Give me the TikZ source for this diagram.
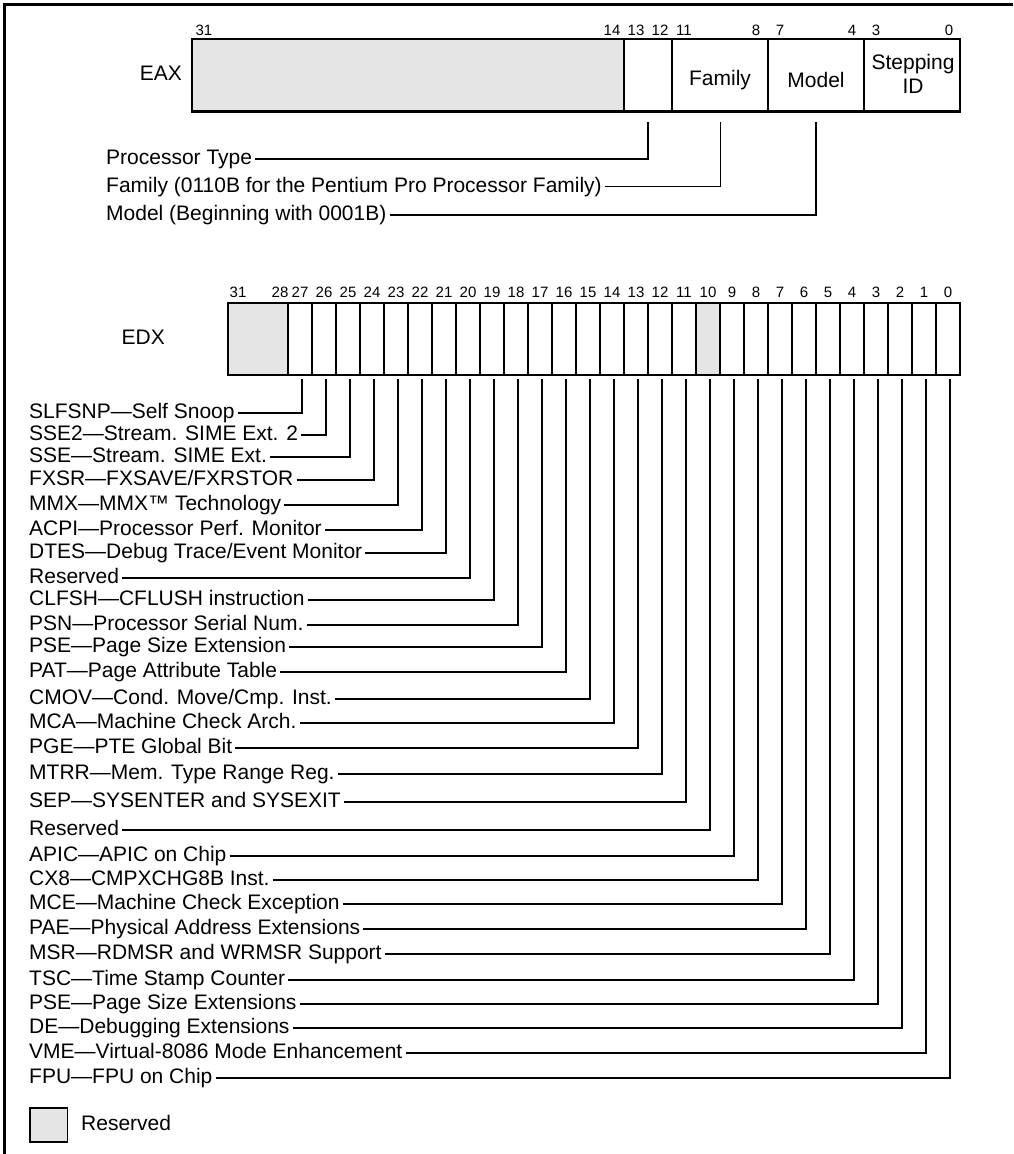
\documentclass[tikz,border=0pt]{standalone}
\usepackage{fontspec}
\setmainfont{Liberation Sans}
\definecolor{resgray}{gray}{0.9}
\begin{document}
\begin{tikzpicture}[x=1pt,y=-1pt,
  lab/.style={font=\fontsize{21}{25}\selectfont, inner sep=3pt, text height=15pt, text depth=4pt},
  celltxt/.style={font=\fontsize{21}{24}\selectfont, inner sep=0pt, align=center},
  bitnum/.style={font=\fontsize{15}{18}\selectfont, inner sep=0pt},
  regbox/.style={line width=2.2pt},
  frameline/.style={line width=3pt},
  conn/.style={line width=1.1pt}]
\useasboundingbox (0,0) rectangle (1013,1154);
% outer frame
\draw[frameline] (4,1154) -- (4,4) -- (1013,4);

% ---------------- EAX ----------------
\fill[resgray] (192,39) rectangle (624,111.5);
\draw[regbox] (192,39) rectangle (960,111.5);
\foreach \x in {624,672,768,864} \draw[regbox] (\x,39) -- (\x,111.5);
\foreach \b/\x in {31/204,14/612,13/636,12/660,11/684,8/756,7/780,4/852,3/876,0/949}
  \node[bitnum] (ea\b) at (\x,30) {\b};
\node[lab, anchor=east] (eax) at (185,75) {EAX};
\node[celltxt] (fam) at (720,80) {Family};
\node[celltxt] (mod) at (816,80) {Model};
\node[celltxt] (stepid) at (913,74) {Stepping\\ID};

\coordinate (ptb) at (648,122);
\coordinate (famb) at (720.5,122);
\coordinate (modb) at (816,122);
\node[lab, anchor=west] (pt) at (103,159) {Processor Type};
\node[lab, anchor=west] (famtxt) at (103,186.5) {Family (0110B for the Pentium Pro Processor Family)};
\node[lab, anchor=west] (modtxt) at (103,215) {Model (Beginning with 0001B)};
\draw[conn] (pt.east) -| (ptb);
\draw[conn] (famtxt.east) -| (famb);
\draw[conn] (modtxt.east) -| (modb);

% ---------------- EDX ----------------
\fill[resgray] (228,303) rectangle (288,375);
\fill[resgray] (696,303) rectangle (720,375);
\draw[regbox] (228,303) rectangle (960,375);
\foreach \i in {0,...,27} \draw[regbox] ({288+24*\i},303) -- ({288+24*\i},375);
\node[bitnum] (ed31) at (238,292) {31};
\node[bitnum] (ed28) at (280,292) {28};
\foreach \b in {0,...,27}
  \node[bitnum] (ed\b) at ({300+24*(27-\b)},292) {\b};
\node[lab, anchor=east] (edx) at (168,339) {EDX};

\foreach \b/\y/\t in {
  27/413/{SLFSNP—Self Snoop},
  26/435/{SSE2—Stream. SIME Ext. 2},
  25/457/{SSE—Stream. SIME Ext.},
  24/480/{FXSR—FXSAVE/FXRSTOR},
  23/505/{MMX—MMX™ Technology},
  22/530/{ACPI—Processor Perf. Monitor},
  21/553/{DTES—Debug Trace/Event Monitor},
  20/578/{Reserved},
  19/600/{CLFSH—CFLUSH instruction},
  18/625/{PSN—Processor Serial Num.},
  17/647/{PSE—Page Size Extension},
  16/672/{PAT—Page Attribute Table},
  15/699/{CMOV—Cond. Move/Cmp. Inst.},
  14/723/{MCA—Machine Check Arch.},
  13/748/{PGE—PTE Global Bit},
  12/774/{MTRR—Mem. Type Range Reg.},
  11/802/{SEP—SYSENTER and SYSEXIT},
  10/830/{Reserved},
  9/856/{APIC—APIC on Chip},
  8/880/{CX8—CMPXCHG8B Inst.},
  7/904/{MCE—Machine Check Exception},
  6/929/{PAE—Physical Address Extensions},
  5/954/{MSR—RDMSR and WRMSR Support},
  4/980/{TSC—Time Stamp Counter},
  3/1004/{PSE—Page Size Extensions},
  2/1028/{DE—Debugging Extensions},
  1/1053/{VME—Virtual-8086 Mode Enhancement},
  0/1078/{FPU—FPU on Chip}}
{
  \node[lab, anchor=west] (l\b) at (26,\y) {\t};
  \coordinate (c\b) at ({302+24*(27-\b)},379);
  \draw[conn] (l\b.east) -| (c\b);
}

% ---------------- legend ----------------
\node[draw, fill=resgray, line width=1.2pt, minimum width=37.5pt, minimum height=34pt, inner sep=0pt] (legbox) at (48.75,1125) {};
\node[lab, anchor=west] (legtxt) at (78,1125) {Reserved};
\end{tikzpicture}
\end{document}
